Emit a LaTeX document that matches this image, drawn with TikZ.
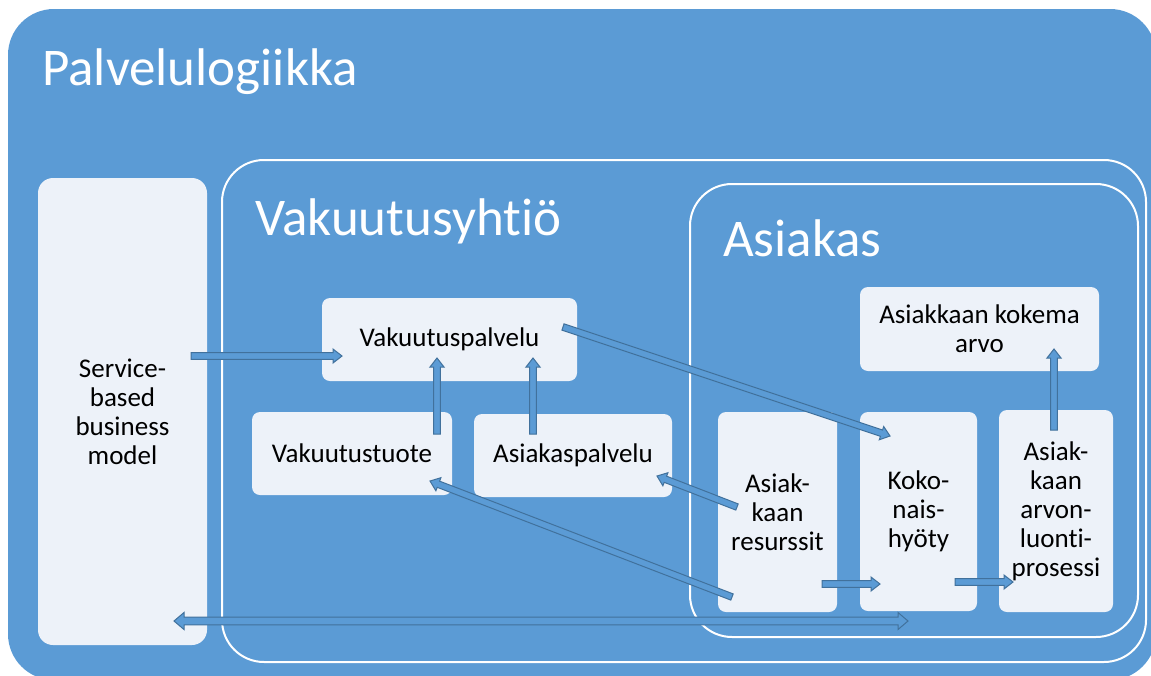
\documentclass[tikz,border=0pt]{standalone}
\usepackage{fontspec}
\setmainfont{Carlito}[RawFeature={-liga;-clig;-dlig;-calt}]
\usetikzlibrary{calc}
\definecolor{bgblue}{HTML}{5B9BD5}
\definecolor{boxfill}{HTML}{EDF2F9}
\definecolor{arrline}{HTML}{41719C}
\newcommand\myboxfont{\fontsize{27}{29}\selectfont}
\newcommand\mytitlefont{\fontsize{53}{60}\selectfont}
% single block arrow: tail, tip, half shaft, half head, head length
\newcommand\blockarrow[5]{%
  \filldraw[arrstyle]
  ($(#1)!#3!90:(#2)$) -- ($(#2)!#5!(#1)!#3!-90:(#1)$) -- ($(#2)!#5!(#1)!#4!-90:(#1)$) -- (#2)
  -- ($(#2)!#5!(#1)!#4!90:(#1)$) -- ($(#2)!#5!(#1)!#3!90:(#1)$) -- ($(#1)!#3!-90:(#2)$) -- cycle;}
% double block arrow
\newcommand\dblockarrow[5]{%
  \filldraw[arrstyle]
  (#1) -- ($(#1)!#5!(#2)!#4!90:(#2)$) -- ($(#1)!#5!(#2)!#3!90:(#2)$)
  -- ($(#2)!#5!(#1)!#3!-90:(#1)$) -- ($(#2)!#5!(#1)!#4!-90:(#1)$) -- (#2)
  -- ($(#2)!#5!(#1)!#4!90:(#1)$) -- ($(#2)!#5!(#1)!#3!90:(#1)$)
  -- ($(#1)!#5!(#2)!#3!-90:(#2)$) -- ($(#1)!#5!(#2)!#4!-90:(#2)$) -- cycle;}
\tikzset{
  arrstyle/.style={fill=bgblue, draw=arrline, line width=1pt, line join=miter},
  lbox/.style={fill=boxfill, draw=none, rounded corners=8pt, inner sep=0pt, align=center, font=\myboxfont, text=black},
  bigtitle/.style={text=white, font=\mytitlefont, anchor=base west, inner sep=0pt},
  frame/.style={draw=white, line width=2pt, rounded corners=42pt}
}
\begin{document}
\begin{tikzpicture}[x=1pt, y=-1pt]
\useasboundingbox (0,0) rectangle (1151,675);
\clip (0,0) rectangle (1151,675);
% outer background
\fill[bgblue, rounded corners=46pt] (8,9) rectangle (1156,680);
% containers
\draw[frame] (222,160) rectangle (1146,662);
\draw[frame] (690,184) rectangle (1138,637);
% titles
\node[bigtitle] (tpal) at (42,85) {Palvelulogiikka};
\node[bigtitle] (tvak) at (255,235) {Vakuutusyhtiö};
\node[bigtitle] (tasi) at (723,256) {Asiakas};
% boxes
\node[lbox, rounded corners=15pt, minimum width=169pt, minimum height=467pt] (sbm) at (122.5,411.5) {Service-\\based\\business\\model};
\node[lbox, minimum width=255pt, minimum height=83pt] (vp) at (449.5,339.5) {Vakuutuspalvelu};
\node[lbox, minimum width=200pt, minimum height=83pt] (vt) at (352,453.5) {Vakuutustuote};
\node[lbox, minimum width=198pt, minimum height=83pt] (ap) at (573,455.5) {Asiakaspalvelu};
\node[lbox, minimum width=239pt, minimum height=84pt] (ka) at (979.5,329) {Asiakkaan kokema\\arvo};
\node[lbox, minimum width=119pt, minimum height=200pt] (ar) at (777.5,512) {Asiak-\\kaan\\resurssit};
\node[lbox, minimum width=117pt, minimum height=199pt] (kh) at (918.5,511.5) {Koko-\\nais-\\hyöty};
\node[lbox, minimum width=114pt, minimum height=202pt] (al) at (1056,511) {Asiak-\\kaan\\arvon-\\luonti-\\prosessi};
% arrow end points
\coordinate (a1t) at (191,356);  \coordinate (a1h) at (342,356);
\coordinate (a2t) at (437,434);  \coordinate (a2h) at (437,358);
\coordinate (a3t) at (533,434);  \coordinate (a3h) at (533,358);
\coordinate (a4t) at (563,327);  \coordinate (a4h) at (890,436);
\coordinate (a5t) at (737,507);  \coordinate (a5h) at (657,476);
\coordinate (a6t) at (732,597);  \coordinate (a6h) at (430,481);
\coordinate (a7t) at (822,584);  \coordinate (a7h) at (880,584);
\coordinate (a8t) at (955,582);  \coordinate (a8h) at (1013,582);
\coordinate (a9t) at (1054,430); \coordinate (a9h) at (1054,349);
\coordinate (a10a) at (174,621); \coordinate (a10b) at (908,621);
% arrows
\blockarrow{a1t}{a1h}{3.3pt}{7pt}{9pt}
\blockarrow{a2t}{a2h}{3.3pt}{7pt}{9pt}
\blockarrow{a3t}{a3h}{3.3pt}{7pt}{9pt}
\blockarrow{a4t}{a4h}{3.3pt}{7pt}{9pt}
\blockarrow{a5t}{a5h}{3.3pt}{7pt}{9pt}
\blockarrow{a6t}{a6h}{3.3pt}{7pt}{9pt}
\blockarrow{a7t}{a7h}{3.3pt}{7pt}{9pt}
\blockarrow{a8t}{a8h}{3.3pt}{7pt}{9pt}
\blockarrow{a9t}{a9h}{3.3pt}{7pt}{9pt}
\dblockarrow{a10a}{a10b}{3.8pt}{8.5pt}{10pt}
\end{tikzpicture}
\end{document}
